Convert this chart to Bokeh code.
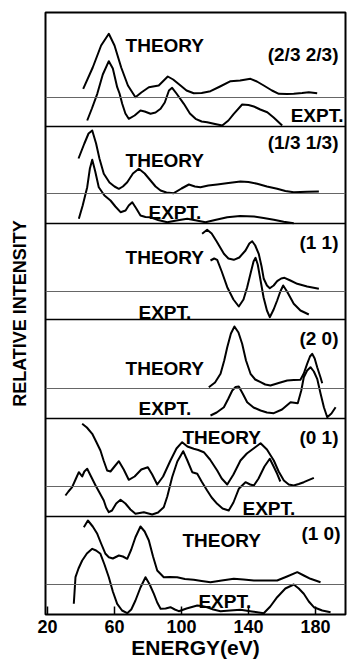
from bokeh.plotting import figure
from bokeh.models import Range1d, FixedTicker, Span, ColumnDataSource
from bokeh.core.properties import value
from bokeh.embed import file_html
from bokeh.resources import INLINE

# ---------------- data (energy in eV, relative intensity in arbitrary units) ----------------
panel_names = ["(2/3 2/3)", "(1/3 1/3)", "(1 1)", "(2 0)", "(0 1)", "(1 0)"]
x_ticks = [20, 60, 100, 140, 180]

th1_e = [41.3, 47, 52, 56.6, 60, 64, 68, 72.5, 76, 80.5, 86.4, 91.8, 95, 99.4, 103, 107.3, 112, 117.3, 123, 129.3, 135, 141.2, 145, 149.1, 154, 158.1, 163, 167, 172, 176, 181]
th1_i = [8.7, 30, 52, 63.7, 52, 30, 12, 0.3, 5, 10.3, 12, 21, 18, 12, 7, 4.3, 4.5, 6.3, 11, 16.3, 17, 18.7, 16, 12, 7, 3.7, 3.5, 3.7, 4.5, 5.3, 4.3]
ex1_e = [43.7, 46.5, 49.7, 53, 56.6, 59, 61.6, 63, 64.6, 66.5, 68.5, 72, 75.5, 78, 81.5, 84.5, 87.5, 90, 92.5, 94.4, 97, 101.4, 105, 108.4, 112, 115.3, 120, 124.3, 128, 131.2, 136.2, 140, 143.2, 147, 151.2, 155, 160.1]
ex1_i = [6, 18, 32.7, 52, 65.3, 58, 39.3, 33, 22.7, 13, 7.7, 11, 16, 15, 12.7, 14, 17.7, 24, 36, 38.7, 33, 22.7, 13, 7.7, 5, 4.3, 2.5, 1, 6, 12.7, 22, 21.5, 20, 17, 14.3, 9, 1]

th2_e = [38.5, 42, 44.5, 46.7, 49, 51, 53.6, 57, 60, 62.6, 65, 67.6, 71, 74.5, 78, 81.5, 84.5, 87.5, 91, 95.4, 100, 104.4, 108, 111.3, 116, 121.3, 128, 135.2, 140, 145.2, 151, 157.1, 162, 167, 175, 182]
th2_i = [35, 50, 60, 63, 50, 35, 19.7, 11, 7, 4.7, 7, 11.3, 20, 24.7, 20, 13, 7, 3, 1, 0.3, 5, 9, 7, 6.3, 8, 9, 10.5, 12, 11.5, 9.7, 7, 4.7, 2.5, 1.3, 1.8, 2]
ex2_e = [38.7, 41, 43.7, 45.3, 46.7, 48.5, 50.6, 54, 57.6, 60.5, 63.6, 66.6, 68.5, 70.6, 73, 75.5, 78.5, 81.5, 86, 91.5, 97, 103.4, 109, 114.3, 120, 127.3, 135, 143.2, 149, 155.1, 161, 167]
ex2_i = [4.7, 18, 36.3, 55, 63.7, 52, 36.3, 28, 23, 17, 11.3, 13, 18, 21.3, 15, 8, 6.5, 6.3, 3.5, 1.3, 3, 4.7, 3, 1.3, 3.5, 6.3, 7.5, 7, 5.5, 3.7, 1.8, 0.3]

th3_e = [112.3, 115.3, 118, 121, 125.3, 128, 131.2, 134.5, 138.2, 140.5, 142.2, 144, 146.1, 147.8, 149.1, 151, 152.7, 155, 157.1, 159.5, 161.5, 165, 169.1, 175, 182]
th3_i = [57.7, 61.7, 58, 50, 37.7, 33, 31.7, 34, 41, 48, 50.3, 46, 37.7, 25, 12.7, 6, 3.3, 6, 10.3, 13, 13.7, 11, 7.7, 5, 2.7]
ex3_e = [117.3, 119.5, 121.3, 124, 127.3, 131, 134.2, 137, 139.2, 141.5, 143, 144.2, 145.5, 147.2, 149, 151, 152.7, 155, 157.1, 159, 160.7, 163, 167, 171, 176]
ex3_i = [59, 61, 59.7, 48, 32.3, 20, 13, 20, 32.3, 48, 58, 61.7, 55, 39, 22, 9, 2.3, 10, 19, 28, 34, 28, 15.7, 9, 5]

th4_e = [116.3, 120, 123.3, 125.5, 127.3, 129.5, 131.6, 134, 136.2, 138.5, 141.2, 144, 147.2, 150, 153.1, 158, 163.1, 167, 171, 173, 175, 176.7, 178, 179.5, 181, 183, 184]
th4_i = [1.3, 6, 14.7, 28, 41.3, 55, 62, 56, 44.7, 28, 14.7, 9, 6.3, 4, 3, 5.5, 8, 8.5, 8.7, 15, 24.7, 32, 34.7, 30, 21.3, 11, 5.3]
ex4_e = [117.3, 121, 125.3, 128, 130.3, 132.3, 134.2, 136.5, 139.2, 143, 147.2, 151, 155.1, 160, 165.1, 169.4, 171.5, 173, 175, 177, 179, 181, 183, 185, 187, 189.5, 192]
ex4_i = [3, 6, 11.3, 20, 28, 31.5, 32, 25, 16.3, 11, 8, 6, 5.3, 9, 16.3, 15.3, 28, 41.3, 48, 51.3, 47, 39.7, 25, 11.3, 1.3, 5, 11.3]

th5_e = [40.7, 43.5, 46.7, 49, 51.6, 53.5, 55.6, 57.6, 60, 62.6, 65.5, 68.5, 72, 76, 79.9, 82.5, 85.5, 89, 93.4, 97, 100.4, 103.5, 107.3, 110, 113.3, 117, 121.3, 124, 127.3, 131, 135.2, 139, 143, 147.2, 151, 155.1, 158, 161.1, 164, 167, 170, 173, 179]
th5_i = [62.7, 59, 52.7, 45, 36, 26, 16, 15, 20, 25.3, 17, 6.7, 10, 17, 19.3, 12, 2, 10, 26, 38, 44.3, 40, 37.7, 36.5, 34.3, 27, 16, 8, 2, 12, 26, 33, 38, 43.3, 37, 26, 15, 6, 2, 1, 2.5, 4.3, 8.7]
ex5_e = [30.7, 32.5, 34.7, 37, 38.7, 40.7, 42, 43.7, 46, 48.7, 51, 53.6, 55, 56.6, 58.5, 61, 63.6, 66.5, 69.5, 72.5, 77.5, 82.5, 86, 89.4, 91.5, 94.4, 97.5, 101, 103.5, 106.4, 109.4, 112, 115.3, 118, 121.3, 124.5, 128.2, 131, 134.2, 138.2, 141, 143.2, 146, 149.5, 152.7, 155, 157.1, 159]
ex5_i = [21, 25, 29.3, 38, 44.3, 40, 45, 47.7, 40, 31, 24, 16, 9, 4.3, 6, 13, 16.7, 13, 7, 2.7, 4.3, 2, 4, 9.3, 20, 39.3, 55, 65.3, 56, 44.3, 42.7, 35, 26, 19, 12.7, 8, 6, 14, 27.7, 34.3, 32, 31, 38, 50, 57.7, 50, 42.7, 35]

th6_e = [41.7, 44.1, 47, 49.7, 52, 54.6, 56.6, 59, 62.6, 65, 67.6, 70, 72.5, 75.5, 78, 80.5, 83, 85.5, 89.4, 93, 97.4, 102, 107.3, 112, 117.3, 124, 131.2, 137, 143.2, 150, 157.1, 163, 169.1, 173, 177, 183]
th6_i = [57.3, 64, 58, 50.7, 41, 30.7, 27.3, 26, 29, 28, 25.7, 35, 47.3, 58, 53, 44, 28, 14, 7.3, 7.5, 7.3, 5.5, 4.7, 3.5, 2.3, 4, 5.7, 5, 4, 4, 4, 8, 12.3, 9, 5.7, 2.3]
ex6_e = [35.7, 36.7, 38.5, 40.7, 43.5, 46.7, 49, 51.6, 54, 56.6, 59, 61.6, 64.5, 67.6, 70, 72.5, 75.5, 78.5, 81, 83.5, 85.5, 87.5, 90.5, 93.4, 96, 98.4, 103, 109.4, 112, 115.3, 119, 123.3, 129, 135.2, 142, 149.1, 153, 157.1, 162, 167, 170, 173, 176, 179, 184, 189]
ex6_i = [10.7, 37.3, 46, 54, 61, 65.7, 64, 60.7, 50, 37.3, 23, 10.7, 4, 1.3, 5, 14, 27, 37.3, 30, 20.7, 12, 5.7, 6, 7.3, 5, 3.3, 6, 9, 8.5, 7.3, 5, 3.3, 4, 4.7, 3, 1.3, 8, 17.3, 26, 30, 26, 20.7, 13, 7.3, 4, 2.3]

theory = [(th1_e, th1_i), (th2_e, th2_i), (th3_e, th3_i), (th4_e, th4_i), (th5_e, th5_i), (th6_e, th6_i)]
expt = [(ex1_e, ex1_i), (ex2_e, ex2_i), (ex3_e, ex3_i), (ex4_e, ex4_i), (ex5_e, ex5_i), (ex6_e, ex6_i)]

# ---------------- layout (vertical stacking, in plot units) ----------------
panel_bottom = [488, 391, 295, 196, 98, 0]
theory_base = [517, 421, 323, 226, 128, 30]

FONT = "Liberation Sans"

p = figure(width=347, height=664, output_backend="svg", toolbar_location=None,
           x_range=Range1d(18.8, 197.9), y_range=Range1d(0, 602),
           min_border_left=45, min_border_right=2, min_border_top=12, min_border_bottom=50)
p.background_fill_color = "white"
p.border_fill_color = "white"
p.grid.visible = False
p.outline_line_color = "black"
p.outline_line_width = 2

ax = p.xaxis[0]
ax.ticker = FixedTicker(ticks=x_ticks)
ax.axis_line_color = None
ax.major_tick_in = 8
ax.major_tick_out = 0
ax.major_tick_line_width = 1.5
ax.minor_tick_line_color = None
ax.major_label_standoff = 5
ax.major_label_text_font = FONT
ax.major_label_text_font_style = "bold"
ax.major_label_text_font_size = "18px"
ax.major_label_text_color = "black"
ax.axis_label = "ENERGY(eV)"
ax.axis_label_text_font = FONT
ax.axis_label_text_font_style = "bold"
ax.axis_label_text_font_size = "21px"
ax.axis_label_text_color = "black"
ax.axis_label_standoff = 0

ay = p.yaxis[0]
ay.ticker = FixedTicker(ticks=[])
ay.axis_line_color = None
ay.major_tick_in = 0
ay.major_tick_out = 0
ay.minor_tick_line_color = None
ay.major_label_standoff = 0
ay.axis_label = "RELATIVE INTENSITY"
ay.axis_label_text_font = FONT
ay.axis_label_text_font_style = "bold"
ay.axis_label_text_font_size = "18px"
ay.axis_label_text_color = "black"
ay.axis_label_standoff = 16

# panel separators and baselines
for yb in panel_bottom[:-1]:
    p.add_layout(Span(location=yb, dimension="width", line_color="black", line_width=1.5))
for yb in theory_base:
    p.add_layout(Span(location=yb, dimension="width", line_color="#666666", line_width=1))

for k in range(6):
    e, i = theory[k]
    p.line(e, [theory_base[k] + v for v in i], line_color="black", line_width=2, line_join="round")
    e, i = expt[k]
    p.line(e, [panel_bottom[k] + v for v in i], line_color="black", line_width=2, line_join="round")

# in-panel texts
txt_left = dict(
    x=[66.6, 66.6, 80.3, 66.6, 74.3, 66.6, 74.3, 100.6, 136.4, 100.6, 110.1],
    y=[569, 454, 402, 357, 302, 246, 206, 177, 106, 74, 13],
    t=["THEORY", "THEORY", "EXPT.", "THEORY", "EXPT.", "THEORY", "EXPT.", "THEORY", "EXPT.", "THEORY", "EXPT."],
)
p.text(x="x", y="y", text="t", source=ColumnDataSource(txt_left), text_font=value(FONT),
       text_font_style="bold", text_font_size="19px", text_align="left",
       text_baseline="alphabetic", text_color="black")

txt_right = dict(
    x=[193.7, 196.7, 193.7, 193.7, 193.7, 193.7, 194.9],
    y=[560, 499, 472, 372, 276, 177, 81],
    t=[panel_names[0], "EXPT.", panel_names[1], panel_names[2], panel_names[3], panel_names[4], panel_names[5]],
)
p.text(x="x", y="y", text="t", source=ColumnDataSource(txt_right), text_font=value(FONT),
       text_font_style="bold", text_font_size="19px", text_align="right",
       text_baseline="alphabetic", text_color="black")

open("out.html", "w").write(file_html(p, INLINE))
